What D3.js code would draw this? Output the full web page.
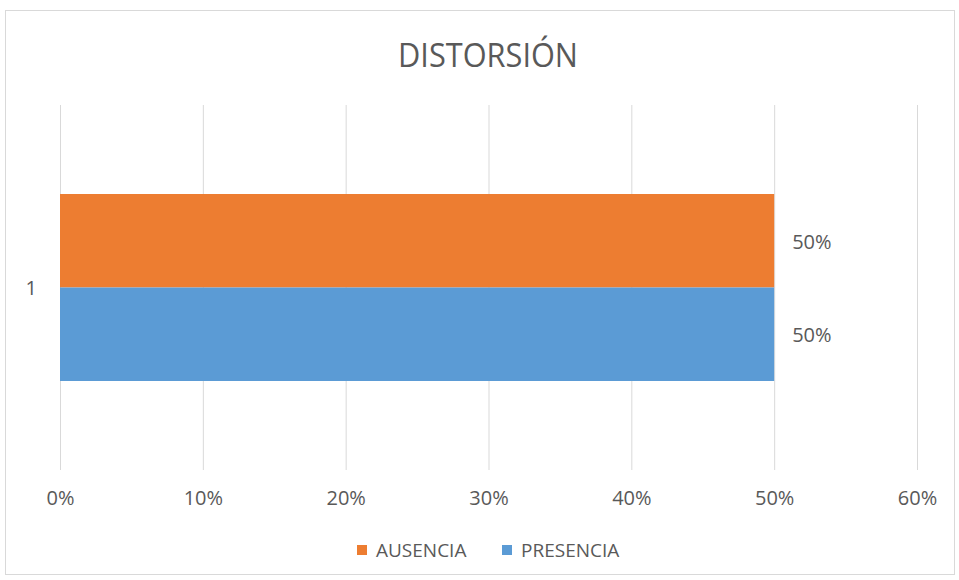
<!DOCTYPE html>
<html>
<head>
<meta charset="utf-8">
<script src="https://cdn.jsdelivr.net/npm/d3@7"></script>
<style>
  html, body { margin: 0; padding: 0; background: #fff; }
  svg { display: block; }
  text { font-family: "Open Sans", "Noto Sans", sans-serif; fill: #595959; }
</style>
</head>
<body>
<svg id="chart" width="959" height="580"></svg>
<script>
// Data
const categories = ["1"];
const seriesNames = ["AUSENCIA", "PRESENCIA"];
const seriesColors = ["#ED7D31", "#5B9BD5"];
const ausencia = [0.5];
const presencia = [0.5];
const tickValues = [0, 0.1, 0.2, 0.3, 0.4, 0.5, 0.6];
const title = "DISTORSIÓN";

const seriesValues = [ausencia, presencia];
const pct = d3.format(".0%");

const svg = d3.select("#chart");

// Outer chart frame
svg.append("rect")
  .attr("x", 5.5).attr("y", 10.5)
  .attr("width", 949).attr("height", 564)
  .attr("fill", "#fff")
  .attr("stroke", "#d9d9d9");

const plot = { left: 60, right: 917, top: 105, bottom: 470 };

const x = d3.scaleLinear().domain([0, 0.6]).range([plot.left, plot.right]);
const y = d3.scaleBand().domain(categories).range([plot.top, plot.bottom])
  .paddingInner(0).paddingOuter(0.476);
const ySeries = d3.scaleBand().domain(seriesNames).range([0, y.bandwidth()]);

// Title
svg.append("text")
  .attr("x", 488).attr("y", 67)
  .attr("text-anchor", "middle")
  .attr("font-size", 32)
  .attr("textLength", 180)
  .attr("lengthAdjust", "spacingAndGlyphs")
  .text(title);

// Vertical gridlines
svg.append("g")
  .selectAll("line")
  .data(tickValues)
  .join("line")
  .attr("x1", d => x(d) + 0.5).attr("x2", d => x(d) + 0.5)
  .attr("y1", plot.top).attr("y2", plot.bottom)
  .attr("stroke", "#d9d9d9")
  .attr("stroke-width", 1);

// X axis tick labels
const xAxis = d3.axisBottom(x)
  .tickValues(tickValues)
  .tickFormat(pct)
  .tickSize(0)
  .tickPadding(0);
const gx = svg.append("g")
  .attr("transform", `translate(0, ${plot.bottom + 35})`)
  .call(xAxis);
gx.select(".domain").remove();
gx.selectAll("text")
  .attr("font-size", 20)
  .attr("dy", 0)
  .style("font-family", '"Open Sans", "Noto Sans", sans-serif')
  .attr("fill", "#595959");

// Category axis label
const yAxis = d3.axisLeft(y).tickSize(0).tickPadding(0);
const gy = svg.append("g")
  .attr("transform", `translate(${plot.left - 23}, 0)`)
  .call(yAxis);
gy.select(".domain").remove();
gy.selectAll("text")
  .attr("font-size", 20)
  .attr("dy", "0.36em")
  .style("font-family", '"Open Sans", "Noto Sans", sans-serif')
  .attr("fill", "#595959");

// Bars with value labels
seriesNames.forEach((name, si) => {
  const rows = categories.map((c, i) => ({ c, v: seriesValues[si][i] }));
  const g = svg.append("g");
  g.selectAll("rect")
    .data(rows)
    .join("rect")
    .attr("x", x(0))
    .attr("y", d => y(d.c) + ySeries(name))
    .attr("width", d => x(d.v) - x(0))
    .attr("height", ySeries.bandwidth())
    .attr("fill", seriesColors[si]);
  g.selectAll("text")
    .data(rows)
    .join("text")
    .attr("x", d => x(d.v) + 18)
    .attr("y", d => y(d.c) + ySeries(name) + ySeries.bandwidth() / 2 + 8)
    .attr("font-size", 20)
    .text(d => pct(d.v));
});

// Legend
const legend = svg.append("g").attr("transform", "translate(0, 550)");
const legendItems = [
  { name: seriesNames[0], color: seriesColors[0], x: 357 },
  { name: seriesNames[1], color: seriesColors[1], x: 502 }
];
legendItems.forEach(it => {
  legend.append("rect")
    .attr("x", it.x).attr("y", -5)
    .attr("width", 10).attr("height", 10)
    .attr("fill", it.color);
  legend.append("text")
    .attr("x", it.x + 19).attr("y", 7)
    .attr("font-size", 19)
    .text(it.name);
});
</script>
</body>
</html>
